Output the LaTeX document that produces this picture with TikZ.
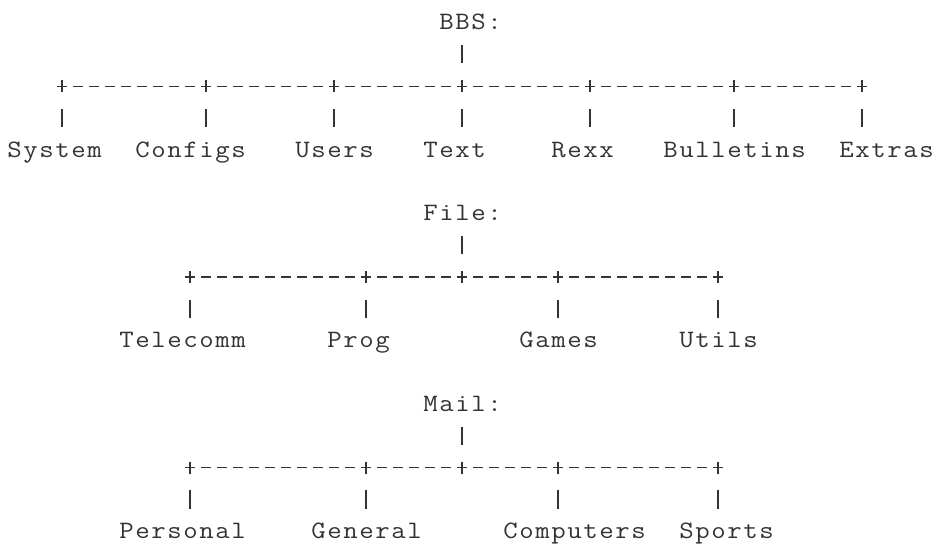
\documentclass[tikz,border=0pt]{standalone}
\usepackage{graphicx}
\definecolor{ink}{HTML}{333333}

% one character cell = 1 unit wide, one text line = 1 unit high
\newcommand\stem[2]{\draw (#1+0.5,#2+0.05)--(#1+0.5,#2-0.52);}
\newcommand\plus[2]{\draw (#1+0.5,#2-0.42)--(#1+0.5,#2-0.04);}
\newcommand\dashrow[3]{\foreach \c in {#1,...,#2} \draw (\c+0.16,#3-0.23)--(\c+0.84,#3-0.23);}
% set a word letter by letter, one 16pt cell per letter
\def\monocells#1{\monocellsi#1\relax}
\def\monocellsi#1{\ifx#1\relax\else\hbox to 16pt{\hss\scalebox{1.12}[1]{#1}\hss}\expandafter\monocellsi\fi}

\begin{document}
\begin{tikzpicture}[x=16pt, y=-31.8pt, line width=1.2pt, ink, font=\fontsize{25}{30}\selectfont\ttfamily,
  lbl/.style={anchor=base west, inner sep=0pt}]
\useasboundingbox (-0.375,-0.943) rectangle (57.875,16.226);

% BBS
\node[lbl] (bbs) at (27,0) {\monocells{BBS:}};
\stem{28}{1}
\dashrow{3}{53}{2}
\foreach \c in {3,12,20,28,36,45,53} {\plus{\c}{2} \stem{\c}{3}}
\node[lbl] (system) at (0,4) {\monocells{System}};
\node[lbl] (configs) at (8,4) {\monocells{Configs}};
\node[lbl] (users) at (18,4) {\monocells{Users}};
\node[lbl] (text) at (26,4) {\monocells{Text}};
\node[lbl] (rexx) at (34,4) {\monocells{Rexx}};
\node[lbl] (bulletins) at (41,4) {\monocells{Bulletins}};
\node[lbl] (extras) at (52,4) {\monocells{Extras}};

% File
\node[lbl] (file) at (26,6) {\monocells{File:}};
\stem{28}{7}
\dashrow{11}{44}{8}
\foreach \c in {11,22,28,34,44} \plus{\c}{8};
\foreach \c in {11,22,34,44} \stem{\c}{9};
\node[lbl] (telecomm) at (7,10) {\monocells{Telecomm}};
\node[lbl] (prog) at (20,10) {\monocells{Prog}};
\node[lbl] (games) at (32,10) {\monocells{Games}};
\node[lbl] (utils) at (42,10) {\monocells{Utils}};

% Mail
\node[lbl] (mail) at (26,12) {\monocells{Mail:}};
\stem{28}{13}
\dashrow{11}{44}{14}
\foreach \c in {11,22,28,34,44} \plus{\c}{14};
\foreach \c in {11,22,34,44} \stem{\c}{15};
\node[lbl] (personal) at (7,16) {\monocells{Personal}};
\node[lbl] (general) at (19,16) {\monocells{General}};
\node[lbl] (computers) at (31,16) {\monocells{Computers}};
\node[lbl] (sports) at (42,16) {\monocells{Sports}};
\end{tikzpicture}
\end{document}
